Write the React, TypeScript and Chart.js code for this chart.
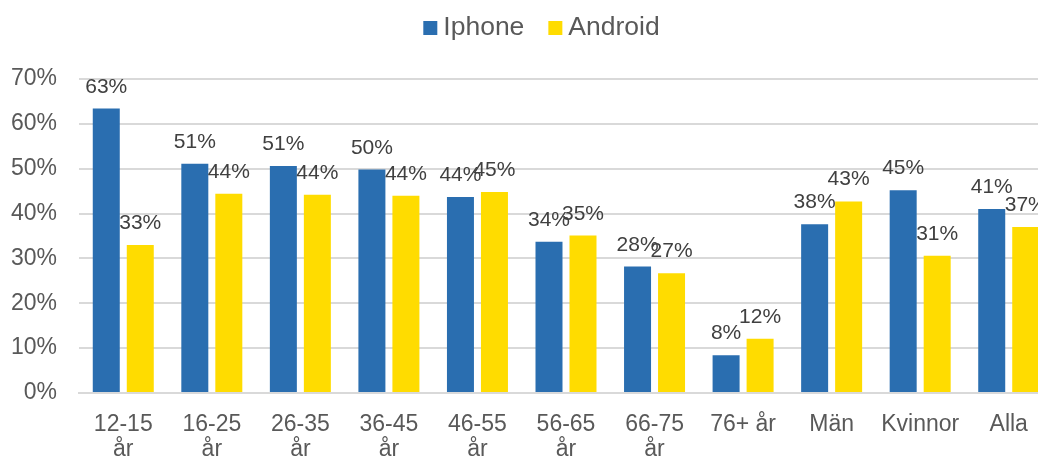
import React, { useEffect, useRef } from "react";
import { Chart, registerables } from "chart.js";

Chart.register(...registerables);

const categories: (string | string[])[] = [
  ["12-15", "år"],
  ["16-25", "år"],
  ["26-35", "år"],
  ["36-45", "år"],
  ["46-55", "år"],
  ["56-65", "år"],
  ["66-75", "år"],
  "76+ år",
  "Män",
  "Kvinnor",
  "Alla",
];

const iphoneValues = [63.4, 51.1, 50.6, 49.8, 43.7, 33.7, 28.2, 8.4, 37.6, 45.2, 41.0];
const androidValues = [33.0, 44.4, 44.2, 44.0, 44.8, 35.1, 26.7, 12.1, 42.7, 30.6, 37.0];

const yTicks = [0, 10, 20, 30, 40, 50, 60, 70];

const seriesNames = ["Iphone", "Android"];
const seriesColors = ["#2A6EB0", "#FFDC00"];

const FONT = '"Liberation Sans", Arial, sans-serif';

const valueLabelPlugin = {
  id: "valueLabels",
  afterDatasetsDraw(chart: any) {
    const ctx = chart.ctx;
    ctx.save();
    ctx.font = `21px ${FONT}`;
    ctx.fillStyle = "#404040";
    ctx.textAlign = "center";
    ctx.textBaseline = "alphabetic";
    chart.data.datasets.forEach((ds: any, i: number) => {
      const meta = chart.getDatasetMeta(i);
      meta.data.forEach((bar: any, j: number) => {
        const v = ds.data[j];
        ctx.fillText(`${Math.round(v)}%`, bar.x, bar.y - 16);
      });
    });
    ctx.restore();
  },
};

const legendPlugin = {
  id: "customLegend",
  afterDraw(chart: any) {
    const ctx = chart.ctx;
    ctx.save();
    ctx.font = `26.5px ${FONT}`;
    ctx.textBaseline = "alphabetic";
    ctx.textAlign = "left";
    const box = 14;
    const gapText = 6;
    const gapItem = 24;
    const items = chart.data.datasets.map((ds: any) => ({
      label: ds.label,
      color: ds.backgroundColor,
      w: ctx.measureText(ds.label).width,
    }));
    const total =
      items.reduce((s: number, it: any) => s + box + gapText + it.w, 0) +
      gapItem * (items.length - 1);
    let x = 541.5 - total / 2;
    const baseline = 35;
    items.forEach((it: any) => {
      ctx.fillStyle = it.color;
      ctx.fillRect(x, 21, box, box);
      x += box + gapText;
      ctx.fillStyle = "#595959";
      ctx.fillText(it.label, x, baseline);
      x += it.w + gapItem;
    });
    ctx.restore();
  },
};

export default function App() {
  const ref = useRef<HTMLCanvasElement | null>(null);

  useEffect(() => {
    if (!ref.current) return;
    const chart = new Chart(ref.current, {
      type: "bar",
      data: {
        labels: categories,
        datasets: [
          {
            label: seriesNames[0],
            data: iphoneValues,
            backgroundColor: seriesColors[0],
            categoryPercentage: 0.768,
            barPercentage: 0.794,
          },
          {
            label: seriesNames[1],
            data: androidValues,
            backgroundColor: seriesColors[1],
            categoryPercentage: 0.768,
            barPercentage: 0.794,
          },
        ],
      },
      options: {
        responsive: false,
        animation: false,
        devicePixelRatio: 1,
        layout: { padding: { top: 79, right: 1, left: 0, bottom: 0 } },
        plugins: {
          legend: { display: false },
          tooltip: { enabled: false },
        },
        scales: {
          x: {
            grid: { display: false, drawTicks: false },
            border: { display: true, color: "#D9D9D9", width: 2 },
            ticks: {
              color: "#595959",
              font: { family: FONT, size: 23, lineHeight: 1.08 },
              padding: 19,
              maxRotation: 0,
              autoSkip: false,
            },
            afterFit: (s: any) => {
              s.height = 64;
            },
          },
          y: {
            min: 0,
            max: 70,
            afterBuildTicks: (s: any) => {
              s.ticks = yTicks.map((v) => ({ value: v }));
            },
            grid: { color: "#D9D9D9", lineWidth: 2, drawTicks: false },
            border: { display: false },
            ticks: {
              color: "#595959",
              font: { family: FONT, size: 23 },
              padding: 22,
              callback: (v: any) => `${v}%`,
            },
            afterFit: (s: any) => {
              s.width = 79;
            },
          },
        },
      },
      plugins: [valueLabelPlugin, legendPlugin],
    });
    return () => chart.destroy();
  }, []);

  return (
    <div
      style={{
        position: "fixed",
        left: 0,
        top: 0,
        width: 1038,
        height: 457,
        overflow: "hidden",
        background: "#fff",
      }}
    >
      <canvas ref={ref} width={1054} height={457} style={{ display: "block" }} />
    </div>
  );
}
